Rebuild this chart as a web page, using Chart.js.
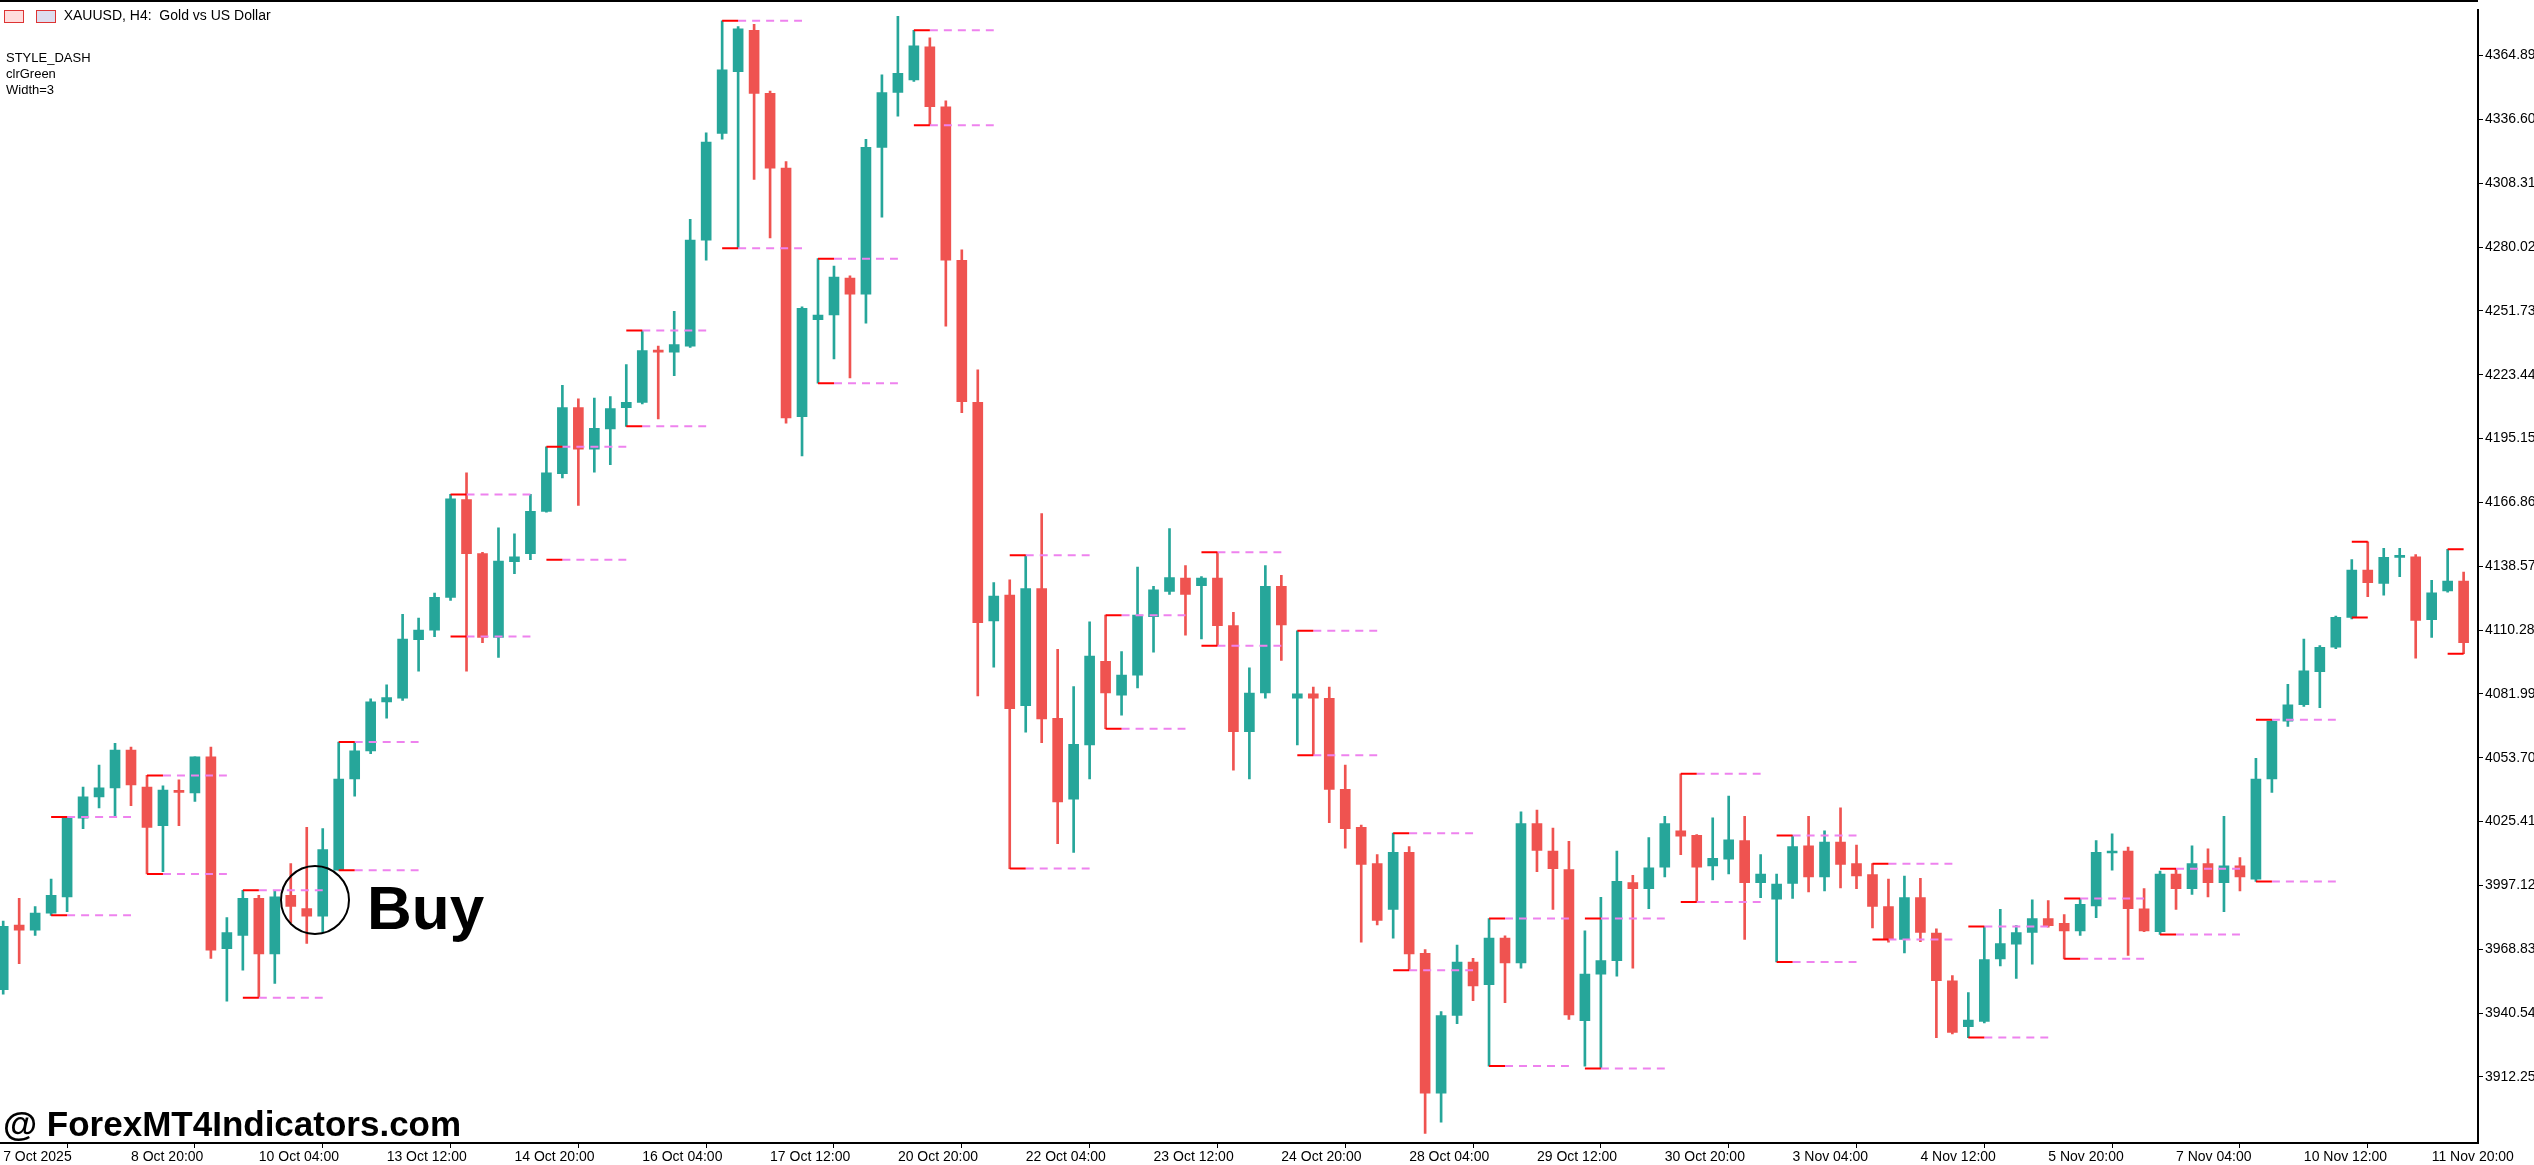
<!DOCTYPE html>
<html>
<head>
<meta charset="utf-8">
<script src="https://cdn.jsdelivr.net/npm/chart.js@4.4.1/dist/chart.umd.min.js"></script>
<style>
  html, body { margin: 0; padding: 0; background: #fff; }
  #wrap { position: relative; width: 2534px; height: 1165px; overflow: hidden; }
  canvas { position: absolute; left: 0; top: 0; }
  .txt { position: absolute; font-family: "Liberation Sans", Arial, sans-serif; color: #000; white-space: nowrap; }
  #topline { position: absolute; left: 0; top: 0; width: 2478px; height: 2px; background: #000; }
</style>
</head>
<body>
<div id="wrap">
  <canvas id="c" width="2534" height="1165"></canvas>
  <div id="topline"></div>
  <div class="txt" style="left:4px;top:7px;font-size:14px;">
    <span style="display:inline-block;width:18px;height:11px;border:1px solid #d33;background:#fdd;vertical-align:middle;"></span>
    <span style="display:inline-block;width:18px;height:11px;border:1px solid #d33;background:#dde;vertical-align:middle;margin-left:8px;"></span>
    &nbsp;XAUUSD, H4:&nbsp; Gold vs US Dollar
  </div>
  <div class="txt" style="left:6px;top:50px;font-size:13px;line-height:16px;">STYLE_DASH<br>clrGreen<br>Width=3</div>
  <div style="position:absolute;left:280px;top:865px;width:70px;height:70px;border:2px solid #000;border-radius:50%;box-sizing:border-box;"></div>
  <div class="txt" style="left:367px;top:872px;font-size:62px;font-weight:bold;">Buy</div>
  <div class="txt" style="left:3px;top:1104px;font-size:35px;font-weight:bold;">@ ForexMT4Indicators.com</div>
</div>
<script>
// XAUUSD H4 candles
const opens = [3951,3979.6,3977.3,3984.9,3992.1,4026.9,4036.4,4040.4,4057.1,4040.7,4023.6,4039.0,4038.1,4054.1,3969.1,3975.0,3991.4,3966.8,3992.7,3986.9,
  3983.5,4003.9,4044.3,4056.8,4078.5,4080.1,4106.0,4110.3,4124.8,4168.1,4144.2,4107.0,4140.6,4144.2,4162.9,4179.6,4208.9,4190.5,4199.4,4208.9,
  4211.2,4234.2,4233.5,4236.1,4283.1,4330.4,4357.7,4376.1,4348.1,4315.0,4204.9,4247.9,4249.9,4266.3,4259.1,4324.2,4348.5,4354.1,4368.8,4342.2,
  4274.2,4211.2,4114.3,4125.8,4076.8,4128.7,4071.2,4035.4,4059.4,4096.5,4081.4,4090.3,4116.2,4127.4,4133.3,4130.0,4133.3,4112.3,4065.3,4082.4,
  4129.7,4080.1,4082.1,4080.1,4039.7,4022.9,4006.8,3986.5,4011.8,3967.1,3905.1,3939.5,3963.2,3953.2,3973.8,3962.8,4024.6,4012.4,4004.2,3937.2,
  3957.8,3963.8,3998.4,3995.7,4005.2,4021.3,4019.3,4005.8,4008.8,4017.0,3998.4,3991.1,3998.0,4014.7,4000.9,4016.4,4006.8,4001.9,3987.8,3973.2,
  3991.7,3976.0,3954.9,3934.6,3936.9,3964.6,3971.1,3976.3,3982.5,3980.3,3977.0,3988.1,4011.5,4012.4,3986.8,3976.7,4002.2,3995.7,4006.8,3998.4,
  4005.8,3999.9,4044.3,4069.9,4077.2,4091.9,4102.7,4115.9,4136.9,4131.0,4142.5,4142.8,4114.9,4127.7,4132.0];
const highs = [3981.3,3991.4,3987.8,4000.0,4027.5,4040.7,4050.5,4060.1,4058.4,4045.9,4041.3,4043.9,4054.1,4058.4,3982.9,3995.0,3992.7,3995.0,4006.8,4022.9,
  4022.3,4060.7,4060.7,4079.8,4086.0,4117.3,4115.6,4126.7,4170.4,4180.0,4144.8,4155.6,4153.0,4170.4,4191.5,4218.7,4212.8,4213.1,4213.8,4227.9,
  4243.0,4236.1,4251.6,4292.3,4330.7,4380.3,4377.7,4378.7,4349.1,4317.9,4253.5,4274.9,4271.6,4267.3,4327.8,4356.4,4382.3,4376.1,4372.8,4344.8,
  4278.8,4225.6,4131.3,4132.6,4143.5,4161.9,4101.8,4085.3,4113.9,4116.9,4100.8,4138.2,4129.7,4155.3,4138.9,4134.0,4144.8,4118.2,4093.6,4138.9,
  4134.6,4110.0,4085.0,4085.0,4050.5,4023.9,4010.8,4020.3,4014.4,3968.7,3941.2,3970.7,3964.8,3982.5,3974.8,4029.8,4030.5,4022.6,4016.7,3977.0,
  3991.9,4012.4,4001.6,4018.3,4027.8,4046.6,4019.7,4027.1,4036.7,4027.8,4010.8,4002.2,4019.3,4027.8,4021.3,4031.5,4015.0,4006.8,4000.0,4001.3,
  4000.3,3977.9,3957.2,3949.7,3978.9,3986.5,3979.3,3990.8,3990.4,3984.2,3991.4,4017.0,4020.0,4014.1,3995.7,4003.5,4004.5,4014.7,4013.4,4027.8,
  4009.5,4053.5,4070.6,4086.3,4106.3,4103.4,4116.5,4141.5,4149.4,4146.5,4146.5,4143.8,4132.3,4146.1,4136.0];
const lows = [3949,3962.5,3975.0,3983.9,3985.5,4022.3,4031.5,4027.5,4032.5,4002.2,4003.2,4023.6,4034.4,3964.8,3945.8,3959.6,3947.4,3953.7,3980.6,3971.4,
  3976.3,4003.9,4036.7,4055.5,4071.3,4079.1,4092.1,4107.4,4123.4,4092.1,4104.7,4098.2,4135.3,4141.5,4162.5,4177.7,4165.5,4180.3,4183.6,4200.6,
  4210.5,4203.9,4223.0,4235.5,4274.2,4327.8,4279.5,4310.0,4284.1,4202.0,4187.5,4219.7,4230.5,4222.0,4246.3,4293.3,4338.0,4353.4,4334.0,4245.0,
  4206.6,4081.1,4093.9,4004.6,4065.0,4060.4,4015.7,4011.8,4044.3,4066.6,4072.6,4084.7,4100.5,4126.1,4108.0,4106.4,4103.4,4048.2,4044.3,4080.1,
  4096.9,4059.4,4054.8,4024.9,4013.7,3972.0,3979.6,3973.8,3959.5,3887.3,3892.2,3935.9,3946.1,3917.1,3945.2,3960.5,4003.2,3986.5,3937.8,3917.1,
  3916.0,3956.9,3960.5,3986.8,4000.9,4010.8,3989.8,3999.6,4002.2,3973.2,3991.7,3963.2,3991.4,3994.3,3994.7,3996.0,3995.7,3978.3,3972.0,3967.2,
  3972.2,3929.7,3931.3,3929.7,3936.2,3961.5,3955.9,3962.2,3978.6,3964.6,3975.0,3982.9,4003.9,3966.1,3976.7,3975.4,3986.5,3993.2,3992.1,3985.5,
  3994.7,3998.9,4038.4,4067.6,4076.5,4075.9,4102.1,4115.2,4125.1,4125.8,4134.0,4097.8,4107.0,4127.1,4099.8];
const closes = [3979,3977.3,3984.9,3992.7,4027.5,4036.4,4040.4,4057.1,4041.7,4022.9,4039.4,4038.4,4054.1,3968.4,3976.3,3991.4,3966.8,3992.1,3987.8,3983.5,
  4013.0,4044.3,4056.8,4078.5,4080.4,4106.3,4110.3,4124.8,4168.5,4144.2,4107.0,4140.9,4142.8,4162.9,4180.0,4208.9,4190.5,4199.7,4208.5,4211.2,
  4234.2,4233.5,4236.8,4283.1,4326.5,4358.6,4376.7,4348.1,4315.0,4204.3,4252.9,4249.9,4266.7,4259.1,4324.2,4348.5,4357.0,4369.2,4342.2,4274.2,
  4211.5,4113.6,4125.4,4075.5,4128.7,4070.9,4034.1,4059.7,4098.8,4082.4,4090.3,4116.9,4128.1,4133.6,4126.1,4133.3,4112.3,4065.3,4082.4,4129.7,
  4112.6,4082.1,4080.1,4039.7,4022.3,4006.5,3981.6,4011.8,3966.8,3905.1,3939.5,3963.2,3952.6,3973.8,3962.8,4024.6,4012.7,4004.6,3939.8,3957.8,
  3963.8,3999.0,3995.7,4004.9,4024.6,4019.0,4005.2,4009.1,4017.3,3998.4,4002.2,3997.7,4014.4,4000.9,4016.4,4006.5,4001.3,3987.8,3973.2,3991.7,
  3976.3,3954.9,3932.0,3937.5,3964.3,3971.4,3976.3,3982.5,3979.3,3977.0,3988.8,4011.8,4012.4,3986.8,3977.0,4002.2,3995.7,4006.8,3998.4,4005.8,
  4000.9,4044.3,4069.9,4077.2,4092.2,4102.7,4115.9,4136.9,4131.3,4142.5,4143.1,4114.6,4126.8,4132.0,4104.7];

// indicator levels: start candle, upper level, lower level
const levelStarts = [3, 9, 15, 21, 28, 34, 39, 45, 51, 57, 63, 69, 75, 81, 87, 93, 99, 105, 111, 117, 123, 129, 135, 141, 147, 153];
const levelHigh = [4027.5,4045.9,3995.0,4060.7,4170.4,4191.5,4243.0,4380.3,4274.9,4376.1,4143.5,4116.9,4144.8,4110.0,4020.3,3982.5,3982.5,4046.6,4019.3,4006.8,3978.9,3991.4,4004.5,4070.6,4149.4,4146.1];
const levelLow = [3983.9,4002.2,3947.4,4003.9,4107.4,4141.5,4200.6,4279.5,4219.7,4334.0,4004.6,4066.6,4103.4,4054.8,3959.5,3917.1,3916.0,3989.8,3963.2,3973.2,3929.7,3964.6,3975.4,3998.9,4115.9,4099.8];

const dateLabels = ['7 Oct 2025','8 Oct 20:00','10 Oct 04:00','13 Oct 12:00','14 Oct 20:00','16 Oct 04:00','17 Oct 12:00','20 Oct 20:00',
  '22 Oct 04:00','23 Oct 12:00','24 Oct 20:00','28 Oct 04:00','29 Oct 12:00','30 Oct 20:00','3 Nov 04:00','4 Nov 12:00',
  '5 Nov 20:00','7 Nov 04:00','10 Nov 12:00','11 Nov 20:00'];
const priceTicks = [3912.25,3940.54,3968.83,3997.12,4025.41,4053.70,4081.99,4110.28,4138.57,4166.86,4195.15,4223.44,4251.73,4280.02,4308.31,4336.60,4364.89];

const UP = '#26a69a', DOWN = '#ef5350';
const n = opens.length;
const col = opens.map((o, i) => closes[i] >= o ? UP : DOWN);

function segs(levels, from, to) {
  const pts = [];
  levelStarts.forEach((s, k) => {
    const b = Math.min(s + to, n - 1);
    if (b <= s + from) return;
    pts.push({ x: s + from, y: levels[k] }, { x: b, y: levels[k] }, { x: b + 0.01, y: null });
  });
  return pts;
}
const redHi = segs(levelHigh, 0, 1), redLo = segs(levelLow, 0, 1);
const dashHi = segs(levelHigh, 1, 5), dashLo = segs(levelLow, 1, 5);
// last level has no dashed tail
dashHi.splice(-3); dashLo.splice(-3);

const lineDs = (data, color, dash) => ({
  type: 'line', data, borderColor: color, borderWidth: 2, borderDash: dash,
  pointRadius: 0, spanGaps: false, order: 0,
});

new Chart(document.getElementById('c'), {
  type: 'bar',
  data: {
    datasets: [
      { data: opens.map((o, i) => ({ x: i, y: [lows[i], highs[i]] })), backgroundColor: col, barThickness: 2, grouped: false, order: 2 },
      { data: opens.map((o, i) => ({ x: i, y: [o, closes[i]] })), backgroundColor: col, barThickness: 10, minBarLength: 2, grouped: false, order: 1 },
      lineDs(redHi, '#ff0000', []),
      lineDs(redLo, '#ff0000', []),
      lineDs(dashHi, '#ee82ee', [8, 6]),
      lineDs(dashLo, '#ee82ee', [8, 6]),
    ],
  },
  options: {
    responsive: false,
    animation: false,
    layout: { padding: { top: 1 } },
    plugins: { legend: { display: false }, tooltip: { enabled: false } },
    scales: {
      x: {
        type: 'linear', min: -0.2, max: 154.9, offset: false,
        grid: { display: true, drawOnChartArea: false, tickLength: 5, color: '#000' },
        border: { color: '#000', width: 2 },
        afterBuildTicks: ax => { ax.ticks = dateLabels.map((_, k) => ({ value: k * 8 })); },
        afterFit: ax => { ax.height = 22; },
        ticks: {
          autoSkip: false, maxRotation: 0, align: 'start', padding: 1,
          color: '#000', font: { family: 'Liberation Sans', size: 14 },
          callback: v => dateLabels[v / 8] || '',
        },
      },
      y: {
        position: 'right', min: 3883.0, max: 4384.9,
        grid: { display: true, drawOnChartArea: false, tickLength: 5, color: '#000' },
        border: { color: '#000', width: 2 },
        afterBuildTicks: ax => { ax.ticks = priceTicks.map(v => ({ value: v })); },
        afterFit: ax => { ax.width = 56; },
        ticks: {
          color: '#000', font: { family: 'Liberation Sans', size: 14 }, padding: 2,
          callback: v => v.toFixed(2),
        },
      },
    },
  },
});
</script>
</body>
</html>
